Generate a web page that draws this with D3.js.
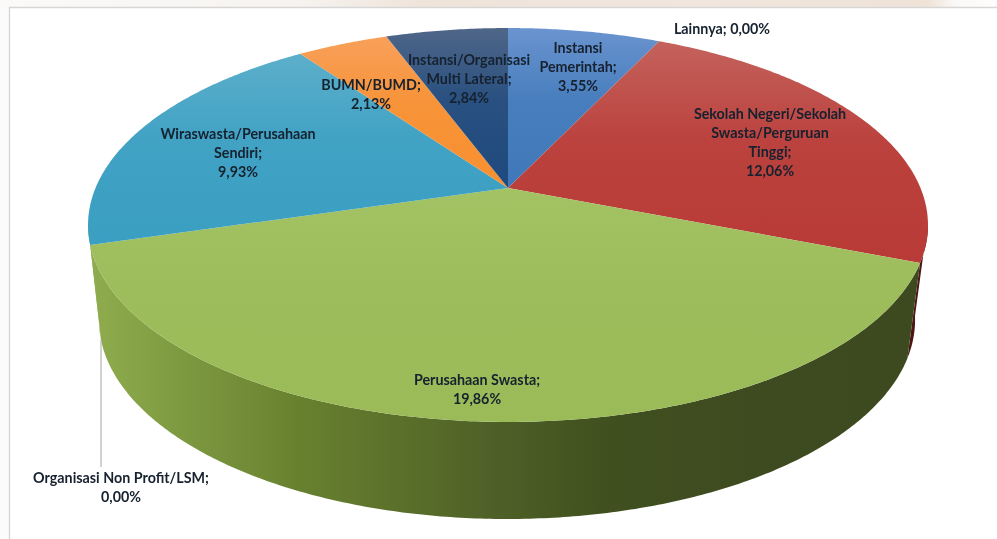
<!DOCTYPE html>
<html><head><meta charset="utf-8">
<script src="https://d3js.org/d3.v7.min.js"></script>
<style>html,body{margin:0;padding:0;background:#fff;overflow:hidden}svg{display:block}
text{font-family:Lato,sans-serif;font-weight:700;font-size:14.3px;fill:#15202e;text-anchor:middle}</style>
</head><body><svg id="c" width="997" height="539"></svg>
<script>
const categories = ["Instansi Pemerintah","Sekolah Negeri/Sekolah Swasta/Perguruan Tinggi","Lainnya","Perusahaan Swasta","Organisasi Non Profit/LSM","Wiraswasta/Perusahaan Sendiri","BUMN/BUMD","Instansi/Organisasi Multi Lateral"];
const values = [3.55,12.06,0,19.86,0,9.93,2.13,2.84];
const valueLabels = ["3,55%","12,06%","0,00%","19,86%","0,00%","9,93%","2,13%","2,84%"];
const labelLines = [["Instansi","Pemerintah;"],["Sekolah Negeri/Sekolah","Swasta/Perguruan","Tinggi;"],["Lainnya; 0,00%"],["Perusahaan Swasta;"],["Organisasi Non Profit/LSM;"],["Wiraswasta/Perusahaan","Sendiri;"],["BUMN/BUMD;"],["Instansi/Organisasi","Multi Lateral;"]];
const labelX = [578,770,722,477,121,238,371,469];
const labelY = [53,119,34,385,483,139,90,65];
const topColors = [["#6a94cf","#3f78b9"],["#c4625c","#b93a36"],["#999","#999"],["#a3c263","#9bbb59"],["#999","#999"],["#5cafca","#3a9fc2"],["#f8a05a","#f79030"],["#4f6688","#1f4a7e"]];
const wallColors = ["#1f3b60","#4d1513","#444","#5a7030","#444","#90ae50","#a05a18","#152f50"];

const svg = d3.select("#c");
const defs = svg.append("defs");

// page backdrop
const bg = defs.append("linearGradient").attr("id","bg");
[[0,"#fbfaf9"],[.3,"#f6f3f0"],[.42,"#efe4da"],[.7,"#f1e6dd"],[.93,"#efe3d8"],[.96,"#fbf9f7"],[1,"#fdfdfc"]].forEach(s=>bg.append("stop").attr("offset",s[0]).attr("stop-color",s[1]));
svg.append("rect").attr("width",997).attr("height",7).attr("fill","url(#bg)");
svg.append("rect").attr("y",7).attr("width",9).attr("height",532).attr("fill","#fbfbfb");
svg.append("path").attr("d","M9.5,539V7.5H997").attr("fill","none").attr("stroke","#d6d6d6").attr("stroke-width",1.4);

// perspective projection of the disc
const k = 0.1878;
const sx = d3.scaleLinear().domain([-1,1]).range([508-412.5,508+412.5]);
const syTop = d3.scaleLinear().domain([-1,1]).range([188+190,188-190]);
const sxB = d3.scaleLinear().domain([-1,1]).range([507-400.8,507+400.8]);
const syB = d3.scaleLinear().domain([-1,1]).range([282.6+192,282.6-192]);
function proj(a, X, Y){const u=Math.sin(a),v=Math.cos(a),d=1+k*v;return [X(u/d),Y(v/d)];}
const top3 = a=>proj(a,sx,syTop), bot3 = a=>proj(a,sxB,syB);
const line = d3.line();
const arcPts = (a,b,f)=>{const n=Math.max(2,Math.ceil(Math.abs(b-a)/0.01));return d3.range(n+1).map(i=>f(a+(b-a)*i/n));};

const arcs = d3.pie().sort(null).value(d=>d)(values);
const data = arcs.map((d,i)=>({...d,i})).filter(d=>d.value>0);

// wall gradient for the front face
const wg = defs.append("linearGradient").attr("id","wall").attr("gradientUnits","userSpaceOnUse").attr("x1",90).attr("x2",920).attr("y1",0).attr("y2",0);
[[0,"#8fad4e"],[.07,"#84a145"],[.25,"#68812f"],[.48,"#4f6127"],[.62,"#40501f"],[.8,"#3e4b20"],[1,"#3d4a1f"]].forEach(s=>wg.append("stop").attr("offset",s[0]).attr("stop-color",s[1]));

// walls: only the front half of the rim is visible
const walls = svg.append("g");
const sil = Math.asin(k);
data.forEach(d=>{
  const a=Math.max(d.startAngle,Math.PI/2+sil-0.02), b=Math.min(d.endAngle,Math.PI*1.5-sil+0.02);
  if(b<=a) return;
  const pts=arcPts(a,b,top3).concat(arcPts(b,a,bot3));
  walls.append("path").attr("d",line(pts)+"Z").attr("fill",categories[d.i]==="Perusahaan Swasta"?"url(#wall)":wallColors[d.i]);
});

// top faces
data.forEach(d=>{
  const id="t"+d.i;
  const g=defs.append("linearGradient").attr("id",id).attr("gradientUnits","userSpaceOnUse").attr("x1",0).attr("x2",0);
  const pts=arcPts(d.startAngle,d.endAngle,top3);
  const ys=pts.map(p=>p[1]).concat([188]);
  g.attr("y1",d3.min(ys)).attr("y2",d3.max(ys));
  g.append("stop").attr("offset",0).attr("stop-color",topColors[d.i][0]);
  g.append("stop").attr("offset",.45).attr("stop-color",d3.interpolateRgb(topColors[d.i][0],topColors[d.i][1])(.8));
  g.append("stop").attr("offset",1).attr("stop-color",topColors[d.i][1]);
  svg.append("path").attr("d",line([[sx(0),syTop(0)]].concat(pts))+"Z").attr("fill",`url(#${id})`);
});

// leader line of the empty slice
svg.append("line").attr("x1",101).attr("x2",101).attr("y1",340).attr("y2",467).attr("stroke","#b5b5b5").attr("stroke-width",1.2);

// labels
const blur = defs.append("filter").attr("id","soft").attr("x","-5%").attr("y","-5%").attr("width","110%").attr("height","110%");
blur.append("feGaussianBlur").attr("stdDeviation",0.3);
const lh=19;
const labels = svg.append("g").attr("filter","url(#soft)");
categories.forEach((c,i)=>{
  const lines = labelLines[i].length===1 && labelLines[i][0].includes("%") ? labelLines[i] : labelLines[i].concat([valueLabels[i]]);
  const t=labels.append("text").attr("x",labelX[i]).attr("y",labelY[i]);
  lines.forEach((l,j)=>t.append("tspan").attr("x",labelX[i]).attr("dy",j?lh:0).text(l));
});
</script></body></html>
